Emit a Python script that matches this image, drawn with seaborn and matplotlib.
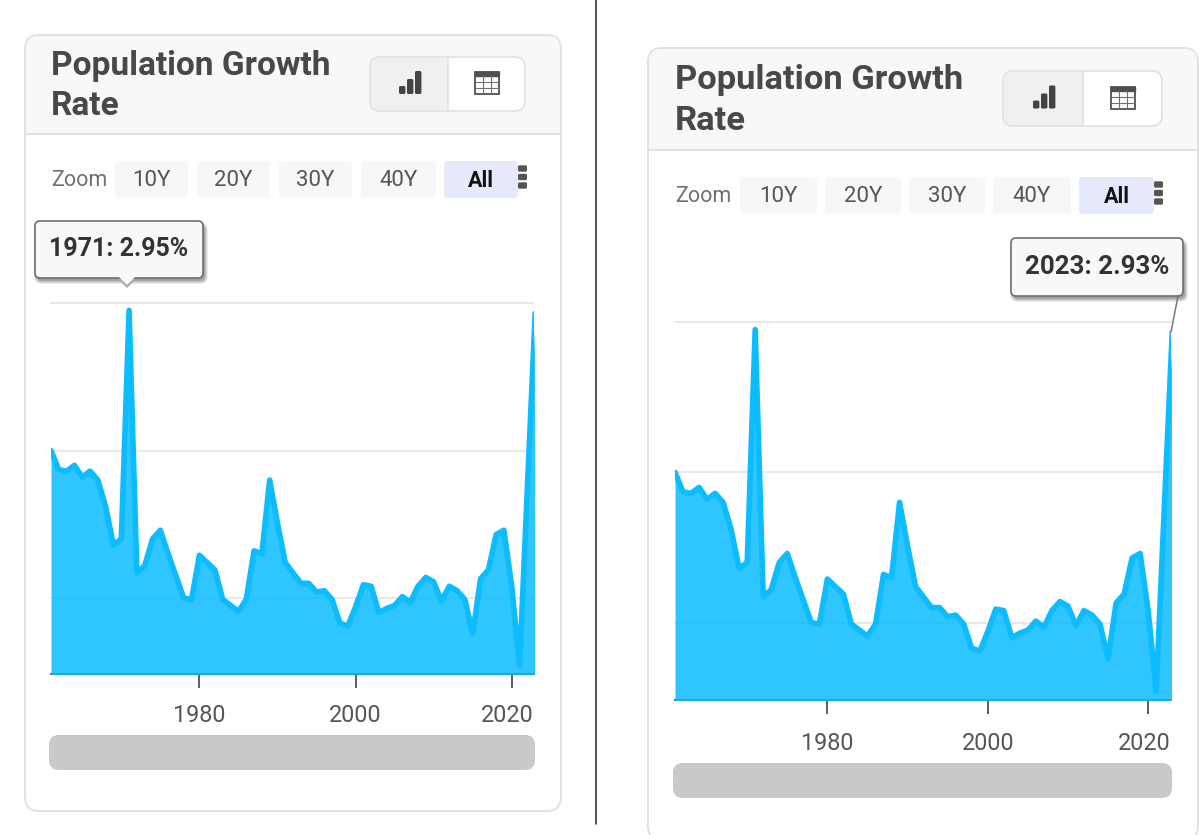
import numpy as np
import matplotlib
matplotlib.use('Agg')
import matplotlib.pyplot as plt
import seaborn as sns
from matplotlib.patches import FancyBboxPatch, Rectangle, Polygon

years = np.arange(1961, 2024)
rates = [2.00, 1.87, 1.86, 1.90, 1.82, 1.86, 1.80, 1.62, 1.36, 1.40,
         2.95, 1.17, 1.22, 1.40, 1.46, 1.30, 1.15, 1.00, 0.99, 1.29,
         1.24, 1.19, 0.99, 0.95, 0.91, 0.99, 1.32, 1.30, 1.80, 1.51,
         1.24, 1.17, 1.10, 1.10, 1.04, 1.05, 0.99, 0.83, 0.81, 0.94,
         1.09, 1.08, 0.90, 0.93, 0.95, 1.01, 0.97, 1.08, 1.14, 1.11,
         0.98, 1.08, 1.05, 0.99, 0.76, 1.13, 1.19, 1.43, 1.46, 1.08,
         0.54, 1.75, 2.93]
x_ticks = [1980, 2000, 2020]
y_grid = [1, 2, 3]
zoom_labels = ['10Y', '20Y', '30Y', '40Y', 'All']

sns.set_theme(style='white')
plt.rcParams['font.family'] = ['Roboto', 'DejaVu Sans']

W, H = 1200, 835
fig = plt.figure(figsize=(W / 100, H / 100), dpi=100, facecolor='white')

# pixel canvas for the card chrome, under the charts
bg = fig.add_axes([0, 0, 1, 1], zorder=0)
bg.set_xlim(0, W)
bg.set_ylim(H, 0)
bg.axis('off')

# second canvas on top for the tooltips
top = fig.add_axes([0, 0, 1, 1], zorder=5)
top.set_xlim(0, W)
top.set_ylim(H, 0)
top.axis('off')
top.patch.set_alpha(0)


def rbox(ax, x0, y0, x1, y1, r=6, **kw):
    p = FancyBboxPatch((x0 + r, y0 + r), x1 - x0 - 2 * r, y1 - y0 - 2 * r,
                       boxstyle=f'round,pad={r},rounding_size={r}', **kw)
    ax.add_patch(p)
    return p


def bar_icon(cx, cy, s):
    # small signal-bar glyph
    for dx, h in [(-8, 7), (0, 14), (8, 22)]:
        rbox(bg, cx + (dx - 3) * s, cy + (10 - h) * s, cx + (dx + 3.4) * s, cy + 11 * s,
             r=1.5, fc='#444444', ec='none', zorder=4)


def table_icon(cx, cy, s):
    x0, x1 = cx - 12 * s, cx + 12 * s
    y0, y1 = cy - 11 * s, cy + 11 * s
    bg.add_patch(Rectangle((x0, y0), x1 - x0, 4 * s, fc='#505050', ec='#505050', lw=1, zorder=4))
    bg.add_patch(Rectangle((x0, y0), x1 - x0, y1 - y0, fc='none', ec='#505050', lw=1.3, zorder=4))
    for k in (1, 2):
        xx = x0 + k * (x1 - x0) / 3
        bg.plot([xx, xx], [y0 + 4 * s, y1], color='#707070', lw=0.8, zorder=4)
        yy = y0 + 4 * s + k * (y1 - y0 - 4 * s) / 3
        bg.plot([x0, x1], [yy, yy], color='#707070', lw=0.8, zorder=4)


def card(box, head_y, title_xy, title_gap, title_fs, group, split, zoom_xy, btns, btn_y,
         menu_x, axes_px, scroll, tick_fs, tick_y):
    x0, y0, x1, y1 = box
    rbox(bg, x0, y0, x1, y1, r=14, fc='white', ec='#e2e2e2', lw=1.4, zorder=1)
    # header band
    rbox(bg, x0 + 1, y0 + 1, x1 - 1, head_y + 16, r=13, fc='#f8f8f8', ec='none', zorder=1.1)
    bg.add_patch(Rectangle((x0 + 1, head_y), x1 - x0 - 2, 18, fc='white', ec='none', zorder=1.2))
    bg.plot([x0, x1], [head_y, head_y], color='#e2e2e2', lw=1.4, zorder=1.3)

    bg.text(title_xy[0], title_xy[1], 'Population Growth', fontsize=title_fs, fontweight='bold',
            color='#484848', va='center', ha='left', zorder=4)
    bg.text(title_xy[0], title_xy[1] + title_gap, 'Rate', fontsize=title_fs, fontweight='bold',
            color='#484848', va='center', ha='left', zorder=4)

    # chart / table toggle
    gx0, gy0, gx1, gy1 = group
    rbox(bg, gx0, gy0, gx1, gy1, r=10, fc='white', ec='#e0e0e0', lw=1.2, zorder=2)
    rbox(bg, gx0 + 1, gy0 + 1, split + 10, gy1 - 1, r=9, fc='#f0f0f0', ec='none', zorder=2.1)
    bg.add_patch(Rectangle((split, gy0 + 1), 12, gy1 - gy0 - 2, fc='white', ec='none', zorder=2.2))
    bg.plot([split, split], [gy0, gy1], color='#e0e0e0', lw=1.2, zorder=2.3)
    midy = (gy0 + gy1) / 2
    bar_icon((gx0 + split) / 2 + 1, midy - 1, 1.0)
    table_icon((split + gx1) / 2, midy - 1, 1.0)

    # zoom row
    by0, by1 = btn_y
    midb = (by0 + by1) / 2
    bg.text(zoom_xy, midb + 1.5, 'Zoom', fontsize=15.5, color='#707070', va='center', ha='left', zorder=4)
    for lab, (bx0, bx1) in zip(zoom_labels, btns):
        on = lab == 'All'
        rbox(bg, bx0, by0, bx1, by1, r=4, fc='#e6e9fb' if on else '#f7f7f7', ec='none', zorder=2)
        bg.text((bx0 + bx1) / 2, midb + 1.5, lab, fontsize=16 if not on else 15.5,
                fontweight='bold' if on else 'normal',
                color='#111111' if on else '#555555', va='center', ha='center', zorder=4)
    for dy in (-8.5, 0, 8.5):
        rbox(bg, menu_x, by0 + 16 + dy - 3.2, menu_x + 9, by0 + 16 + dy + 3.2, r=1.5,
             fc='#555555', ec='none', zorder=4)

    # chart, y = 3 gridline at the top of the axes, x axis at the bottom
    ax_l, ax_t, ax_r, ax_b = axes_px
    ax = fig.add_axes([ax_l / W, 1 - ax_b / H, (ax_r - ax_l) / W, (ax_b - ax_t) / H], zorder=2)
    ax.patch.set_alpha(0)
    ax.fill_between(years, rates, 0, color='#0cbcff', alpha=0.86, lw=0, zorder=3)
    sns.lineplot(x=years, y=rates, ax=ax, color='#0cbcff', lw=4, zorder=4)
    ax.set_xlim(1961, 2022.85)
    ax.set_ylim(0.485, 3)
    ax.set_yticks(y_grid)
    ax.set_yticklabels([])
    ax.tick_params(axis='y', length=0)
    ax.grid(axis='y', color='#e6e6e6', lw=1.3, zorder=1)
    ax.set_axisbelow(True)
    for gl in ax.get_ygridlines():
        gl.set_clip_on(False)
    ax.set_xticks(x_ticks)
    ax.tick_params(axis='x', bottom=True, length=10, width=1.2, color='#444444', pad=0,
                   labelbottom=False)
    for t in x_ticks:
        tx = ax_l + (t - 1961) / (2022.85 - 1961) * (ax_r - ax_l)
        # last label is kept inside the plot width, as the chart library does
        if t == x_ticks[-1]:
            bg.text(ax_r, tick_y, str(t), fontsize=tick_fs, color='#555555',
                    ha='right', va='center', zorder=4)
        else:
            bg.text(tx, tick_y, str(t), fontsize=tick_fs, color='#555555',
                    ha='center', va='center', zorder=4)
    sns.despine(ax=ax, left=True, top=True, right=True)
    ax.spines['bottom'].set_color('#333333')
    ax.spines['bottom'].set_linewidth(1.2)
    ax.set_xlabel('')
    ax.set_ylabel('')

    # scrollbar
    rbox(bg, scroll[0], scroll[1], scroll[2], scroll[3], r=10, fc='#c9c9c9', ec='none', zorder=2)


def tooltip(box, label, fs):
    x0, y0, x1, y1 = box
    # soft shadow from a few stacked boxes
    for grow, a in [(3, 0.10), (2, 0.14), (1, 0.18), (0, 0.25)]:
        rbox(top, x0 + 2 - grow, y0 + 4 - grow, x1 + 2 + grow, y1 + 3 + grow, r=5 + grow,
             fc='#555555', ec='none', alpha=a, zorder=1)
    rbox(top, x0, y0, x1, y1, r=5, fc='#f8f8f8', ec='#6e6e6e', lw=1.2, zorder=3)
    top.text((x0 + x1) / 2, (y0 + y1) / 2, label, fontsize=fs, fontweight='bold', color='#333333',
             ha='center', va='center', zorder=5)


card((25, 35, 561, 811), 134, (51, 66), 40, 24.1, (370, 57, 525, 111), 448, 51,
     [(115, 188), (197, 270), (279, 352), (361, 436), (444, 518)], (161, 198), 518,
     (51, 303, 534, 674), (49, 735, 535, 770), 16.8, 716)
card((648, 48, 1198, 840), 150, (675, 79.5), 41, 24.8, (1003, 71, 1162, 126), 1083, 675,
     [(740, 817), (825, 901), (909, 985), (993, 1071), (1079, 1154)], (177, 214), 1154,
     (675, 322, 1171, 700), (673, 763, 1172, 798), 16.8, 743)

# divider between the two screenshots
bg.plot([596, 596], [0, 824], color='#222222', lw=1.1, zorder=1)

tooltip((35, 221, 203, 278), '1971: 2.95%', 18)
top.add_patch(Polygon([[117, 278], [137, 278], [127, 288]], closed=True, fc='#aaaaaa', ec='none', zorder=2))
top.add_patch(Polygon([[119, 277], [135, 277], [127, 285]], closed=True, fc='#f8f8f8', ec='none', zorder=4))

top.plot([1178, 1171], [296, 332], color='#777777', lw=1.1, zorder=2)
tooltip((1011, 238, 1183, 296), '2023: 2.93%', 18.6)

fig.savefig('out.png', dpi=100)
